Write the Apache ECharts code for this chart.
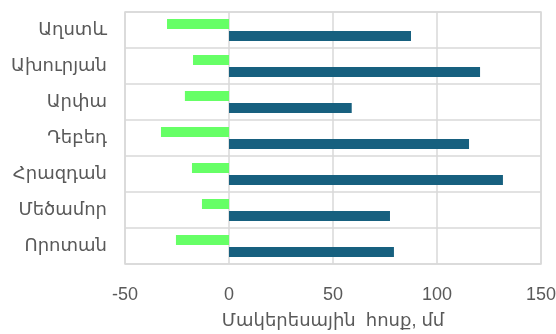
<!DOCTYPE html>
<html>
<head>
<meta charset="utf-8">
<script src="https://cdn.jsdelivr.net/npm/echarts@6/dist/echarts.min.js"></script>
<style>
  html, body { margin: 0; padding: 0; background: #fff; }
  #main { width: 556px; height: 334px; }
</style>
</head>
<body>
<div id="main"></div>
<script>
var categories = ['Աղստև', 'Ախուրյան', 'Արփա', 'Դեբեդ', 'Հրազդան', 'Մեծամոր', 'Որոտան'];
var negValues = [-29.8, -17.3, -21.2, -32.7, -17.8, -13, -25.5];
var posValues = [87.5, 120.7, 59, 115.4, 131.7, 77.4, 79.3];
var xTicks = [-50, 0, 50, 100, 150];

var font = '"Liberation Sans", Arial, "Noto Sans", "DejaVu Sans", sans-serif';
var gridColor = '#d9d9d9';

var myChart = echarts.init(document.getElementById('main'));
var option = {
  backgroundColor: 'white',
  animation: false,
  grid: {
    left: 125, right: 15, top: 12, bottom: 70,
    outerBoundsMode: 'none',
    show: true, borderColor: gridColor, borderWidth: 1.5
  },
  xAxis: {
    type: 'value',
    min: xTicks[0],
    max: xTicks[xTicks.length - 1],
    interval: 50,
    name: 'Մակերեսային  հոսք, մմ',
    nameLocation: 'middle',
    nameGap: 48,
    nameTextStyle: { color: '#595959', fontSize: 18, fontFamily: font },
    axisLine: { show: false },
    axisTick: { show: false },
    axisLabel: { color: '#595959', fontSize: 18, fontFamily: font, margin: 22 },
    splitLine: { lineStyle: { color: gridColor, width: 1.5 } }
  },
  yAxis: {
    type: 'category',
    data: categories,
    inverse: true,
    axisLine: { show: false },
    axisTick: { show: false },
    axisLabel: { color: '#595959', fontSize: 18, fontFamily: font, margin: 18 },
    splitLine: { show: true, lineStyle: { color: gridColor, width: 1.5 } }
  },
  series: [
    {
      name: 'neg', type: 'bar', data: negValues,
      barWidth: 10, barGap: '20%',
      itemStyle: { color: '#66ff66' }
    },
    {
      name: 'pos', type: 'bar', data: posValues,
      barWidth: 10, barGap: '20%',
      itemStyle: { color: '#17607f' }
    }
  ]
};
myChart.setOption(option);
</script>
</body>
</html>
